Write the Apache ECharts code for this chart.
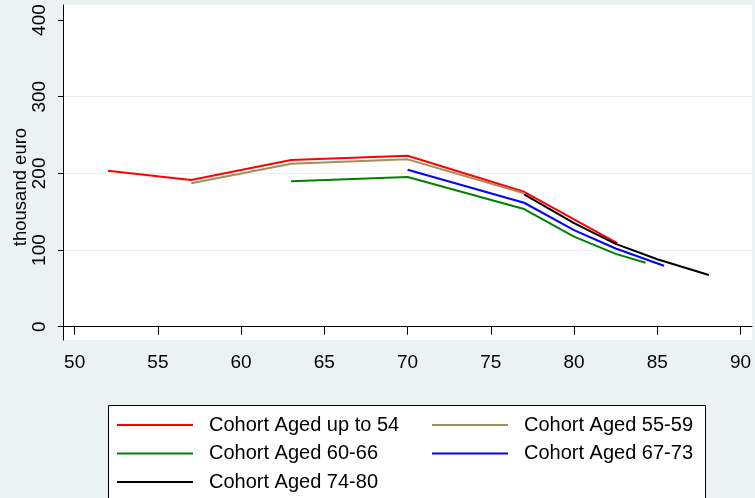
<!DOCTYPE html>
<html>
<head>
<meta charset="utf-8">
<script src="https://cdn.jsdelivr.net/npm/echarts@6/dist/echarts.min.js"></script>
<style>
html, body { margin: 0; padding: 0; background: #eaf2f3; }
#main { width: 755px; height: 498px; }
</style>
</head>
<body>
<div id="main"></div>
<script>
// age on x, thousand euro on y
var cohortNames = ['Cohort Aged up to 54', 'Cohort Aged 55-59', 'Cohort Aged 60-66', 'Cohort Aged 67-73', 'Cohort Aged 74-80'];
var cohortColors = ['#ff0000', '#a68d5c', '#008000', '#0000ff', '#000000'];

var ageUpTo54 = [[52, 203.5], [57, 191.3], [63, 217.4], [70, 223], [77, 176], [80, 140], [82.6, 109.2]];
var age55to59 = [[57, 187], [63, 212.6], [70, 218.3], [77, 174]];
var age60to66 = [[63, 189.6], [70, 195.3], [77, 153.5], [80, 117.5], [82.5, 95], [84.3, 83.5]];
var age67to73 = [[70, 204.8], [77, 161.7], [80, 126], [82.5, 102], [85.4, 79.5]];
var age74to80 = [[77, 172.7], [80, 135], [82.5, 108], [85, 88], [88.1, 67.4]];

var xTicks = [50, 55, 60, 65, 70, 75, 80, 85, 90];
var yTicks = [0, 100, 200, 300, 400];

var cohortData = [ageUpTo54, age55to59, age60to66, age67to73, age74to80];

var myChart = echarts.init(document.getElementById('main'));

var font = 'Liberation Sans, Arial, sans-serif';

var series = cohortData.map(function (d, i) {
    return {
        name: cohortNames[i],
        type: 'line',
        data: d,
        symbol: 'none',
        itemStyle: { color: cohortColors[i] },
        lineStyle: { color: cohortColors[i], width: 2 }
    };
});

var legendBase = {
    orient: 'vertical',
    top: 410,
    height: 120,
    itemWidth: 76,
    itemHeight: 2,
    icon: 'rect',
    itemGap: 8.5,
    selectedMode: false,
    z: 10,
    textStyle: { fontFamily: font, fontSize: 20, lineHeight: 20, color: '#000', padding: [0, 0, 0, 11] }
};

var option = {
    animation: false,
    backgroundColor: '#eaf2f3',
    grid: {
        left: 63, right: 3, top: 5, bottom: 158,
        outerBoundsMode: 'none',
        show: true, backgroundColor: '#fff', borderWidth: 0
    },
    graphic: [{
        type: 'rect',
        z: 1,
        shape: { x: 108.5, y: 405.5, width: 597, height: 100 },
        style: { fill: '#fff', stroke: '#000', lineWidth: 1 }
    }],
    legend: [
        Object.assign({}, legendBase, { left: 112, data: [cohortNames[0], cohortNames[2], cohortNames[4]] }),
        Object.assign({}, legendBase, { left: 427, data: [cohortNames[1], cohortNames[3]] })
    ],
    xAxis: {
        type: 'value',
        min: 49.3,
        max: 90.69,
        axisLine: { show: true, lineStyle: { color: '#000', width: 1 } },
        axisTick: { show: true, length: 8, customValues: xTicks, lineStyle: { color: '#000' } },
        axisLabel: { customValues: xTicks, margin: 13, fontFamily: font, fontSize: 19, color: '#000' },
        splitLine: { show: false }
    },
    yAxis: {
        type: 'value',
        min: -17.3,
        max: 419.6,
        name: 'thousand euro',
        nameLocation: 'middle',
        nameRotate: 90,
        nameGap: 33,
        nameMoveOverlap: false,
        nameTextStyle: { fontFamily: font, fontSize: 18.5, color: '#000', padding: [0, 29, 0, 0] },
        axisLine: { show: true, lineStyle: { color: '#000', width: 1 } },
        axisTick: { show: true, length: 5, customValues: yTicks, lineStyle: { color: '#000' } },
        axisLabel: { customValues: yTicks, rotate: 90, margin: 14, fontFamily: font, fontSize: 19, color: '#000' },
        splitLine: { show: true, lineStyle: { color: ['#fff', '#e6eef0', '#e6eef0', '#e6eef0', '#fff'], width: 1 } }
    },
    series: series
};

myChart.setOption(option);
</script>
</body>
</html>
